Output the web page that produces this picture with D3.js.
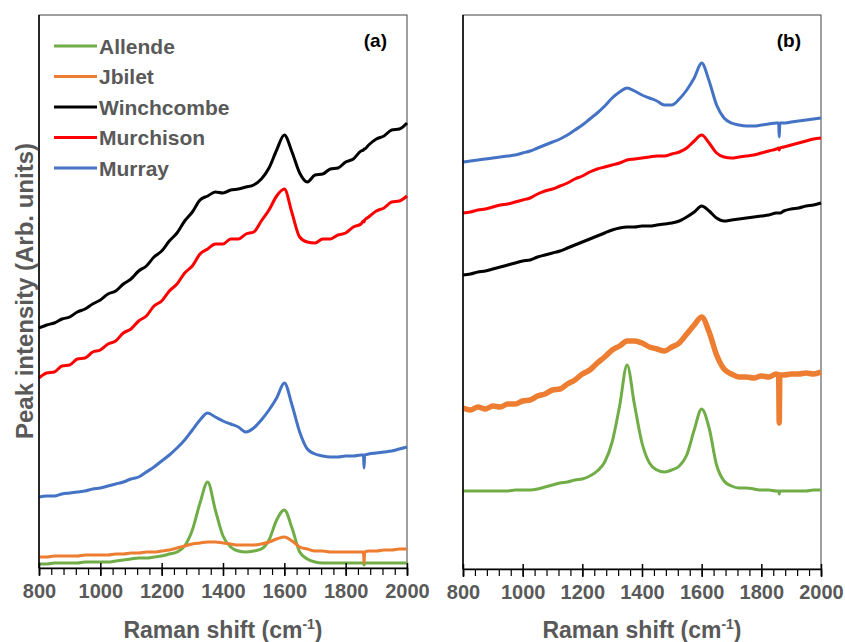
<!DOCTYPE html>
<html>
<head>
<meta charset="utf-8">
<script src="https://cdn.jsdelivr.net/npm/d3@7"></script>
<style>
  body { margin: 0; background: #fff; }
  svg { display: block; font-family: "Liberation Sans", Arial, sans-serif; }
</style>
</head>
<body>
<div id="chart"></div>
<script>
// Raman shift grid (cm-1), shared by every spectrum
const shift = [800,825,850,875,900,925,950,975,1000,1025,1050,1075,1100,1125,1150,1175,1200,1225,1250,1275,1300,
  1325,1350,1375,1400,1425,1450,1475,1500,1525,1550,1575,1600,1625,1650,1675,1700,1725,1750,1775,1800,1825,1850,
  1858,1860,1862,1875,1900,1925,1950,1975,2000];

const seriesNames = ["Allende", "Jbilet", "Winchcombe", "Murchison", "Murray"];
const seriesColors = ["#70ad47", "#ed7d31", "#000000", "#ff0000", "#4472c4"];

// panel (a): stacked spectra, arbitrary units
const allendeA = [4,4,5,5,5,5,6,6,6,6,7,8,9,10,10,11,12,14,16,22,38,65,86,58,32,21,17,16,17,19,28,48,58,40,16,9,6,5,5,5,5,5,5,
  5,3,5,5,5,5,5,5,5];
const jbiletA = [11,11,12,12,12,12,13,13,13,13,14,14,15,15,16,16,17,18,20,22,24,25,26,26,25,24,23,23,23,24,26,29,31,27,21,19,17,17,16,16,16,16,16,
  16,5,16,17,17,18,18,19,19];
const winchA = [240,243,245,249,251,256,259,264,268,274,277,284,289,297,302,311,317,327,335,347,356,368,372,376,375,378,379,381,383,389,400,418,433,416,395,386,393,394,399,400,406,409,417,
  418,419,419,423,429,432,438,439,445];
const murchA = [190,195,196,202,203,209,210,216,218,224,227,235,239,247,252,262,267,277,284,295,302,314,319,324,324,329,329,334,336,347,358,372,379,355,331,326,325,329,329,333,335,341,344,
  347,346,348,351,357,360,366,367,372];
const murrayA = [71,72,72,74,75,76,77,79,80,82,84,86,89,91,96,101,107,113,120,128,138,148,155,151,147,144,141,136,140,148,158,170,185,163,136,119,114,112,111,111,112,112,113,
  113,100,113,114,115,116,117,119,121];

// panel (b): same samples, different offsets
const allendeB = [78,78,78,78,78,78,78,79,79,79,80,82,84,86,87,89,90,93,98,107,127,163,204,164,126,106,99,97,99,103,114,139,160,141,104,88,83,81,81,80,79,79,78,
  78,75,78,78,78,78,78,79,79];
const jbiletB = [161,159,162,160,163,162,165,165,168,169,173,175,179,180,185,189,195,199,206,212,219,223,228,228,226,222,220,218,222,226,235,244,252,237,214,200,195,192,192,191,193,192,195,
  194,146,194,194,195,195,196,195,197];
const winchB = [294,295,297,298,300,302,304,306,308,309,312,314,316,318,321,324,327,330,333,336,339,341,342,342,343,343,344,345,346,348,352,357,363,358,351,348,349,350,351,352,353,354,356,
  356,356,356,358,360,361,363,364,366];
const murchB = [356,357,359,360,362,364,365,367,369,371,375,378,380,383,386,390,393,397,400,402,404,406,409,410,411,412,413,413,415,417,421,428,434,426,416,412,411,412,413,414,416,418,420,
  421,419,421,422,424,426,428,430,431];
const murrayB = [407,408,409,410,411,412,413,414,416,418,421,424,427,430,434,439,444,450,456,463,471,477,481,478,474,471,468,464,464,470,479,491,506,488,464,451,446,444,443,443,444,445,446,
  446,432,446,446,447,448,449,450,451];

const xTicks = [800, 1000, 1200, 1400, 1600, 1800, 2000];
const panelLabels = ["(a)", "(b)"];

const width = 845, height = 642;
const gray = "#595959";

const svg = d3.select("#chart").append("svg")
    .attr("width", width)
    .attr("height", height);

const panels = [
    { left: 39, right: 407, top: 15, bottom: 568, data: [allendeA, jbiletA, winchA, murchA, murrayA], legend: true },
    { left: 463, right: 821, top: 15, bottom: 569, data: [allendeB, jbiletB, winchB, murchB, murrayB], legend: false }
];

panels.forEach(function(p, pi) {
    const x = d3.scaleLinear().domain([800, 2000]).range([p.left, p.right]);
    const y = d3.scaleLinear().domain([0, p.bottom - p.top]).range([p.bottom, p.top]);

    // frame
    svg.append("rect")
        .attr("x", p.left).attr("y", p.top)
        .attr("width", p.right - p.left).attr("height", p.bottom - p.top)
        .attr("fill", "none").attr("stroke", "#404040").attr("stroke-width", 1);

    const line = d3.line()
        .x((d, i) => x(shift[i]))
        .y(d => y(d))
        .curve(d3.curveMonotoneX);

    const g = svg.append("g");
    p.data.forEach(function(vals, si) {
        g.append("path")
            .datum(vals)
            .attr("d", line)
            .attr("fill", "none")
            .attr("stroke", seriesColors[si])
            .attr("stroke-width", (pi === 1 && si === 1) ? 5.5 : 3)
            .attr("stroke-linejoin", "round");
    });

    // left axis line
    svg.append("line")
        .attr("x1", p.left).attr("x2", p.left)
        .attr("y1", p.top).attr("y2", p.bottom)
        .attr("stroke", "#000").attr("stroke-width", 1.5);

    // minor ticks
    svg.append("g")
        .attr("transform", `translate(0,${p.bottom})`)
        .call(d3.axisBottom(x).tickValues(d3.range(800, 2001, 40)).tickSize(7).tickFormat(""))
        .call(a => a.select(".domain").attr("stroke", "#000").attr("stroke-width", 1.5))
        .call(a => a.selectAll(".tick line").attr("stroke", "#000").attr("stroke-width", 1.2));

    // major ticks + labels
    svg.append("g")
        .attr("transform", `translate(0,${p.bottom})`)
        .call(d3.axisBottom(x).tickValues(xTicks).tickSize(8).tickPadding(8).tickFormat(d3.format("d")))
        .call(a => a.select(".domain").remove())
        .call(a => a.selectAll(".tick line").attr("y1", -5).attr("stroke", "#000").attr("stroke-width", 1.5))
        .call(a => a.selectAll(".tick text")
            .attr("fill", gray)
            .style("font-size", "20px")
            .style("font-weight", "bold")
            .style("font-family", "'Liberation Sans', Arial, sans-serif"));

    // x axis title
    const xt = svg.append("text")
        .attr("x", (p.left + p.right) / 2)
        .attr("y", 638)
        .attr("text-anchor", "middle")
        .attr("fill", gray)
        .style("font-size", "23px")
        .style("font-weight", "bold");
    xt.append("tspan").text("Raman shift (cm");
    xt.append("tspan").attr("dy", -9).style("font-size", "14px").text("-1");
    xt.append("tspan").attr("dy", 9).text(")");

    // panel label
    svg.append("text")
        .attr("x", p.right - 20)
        .attr("y", 47)
        .attr("text-anchor", "end")
        .attr("fill", "#000")
        .style("font-size", "19px")
        .style("font-weight", "bold")
        .text(panelLabels[pi]);

    if (p.legend) {
        const lg = svg.append("g").attr("transform", "translate(54,46)");
        seriesNames.forEach(function(name, i) {
            const row = lg.append("g").attr("transform", `translate(0,${i * 30.5})`);
            row.append("line")
                .attr("x1", 0).attr("x2", 43)
                .attr("stroke", seriesColors[i]).attr("stroke-width", 3);
            row.append("text")
                .attr("x", 45).attr("y", 7.5)
                .attr("fill", gray)
                .style("font-size", "21px")
                .style("font-weight", "bold")
                .text(name);
        });
    }
});

// y axis title
svg.append("text")
    .attr("transform", "translate(33,291) rotate(-90)")
    .attr("text-anchor", "middle")
    .attr("fill", gray)
    .style("font-size", "24px")
    .style("font-weight", "bold")
    .text("Peak intensity (Arb. units)");
</script>
</body>
</html>
